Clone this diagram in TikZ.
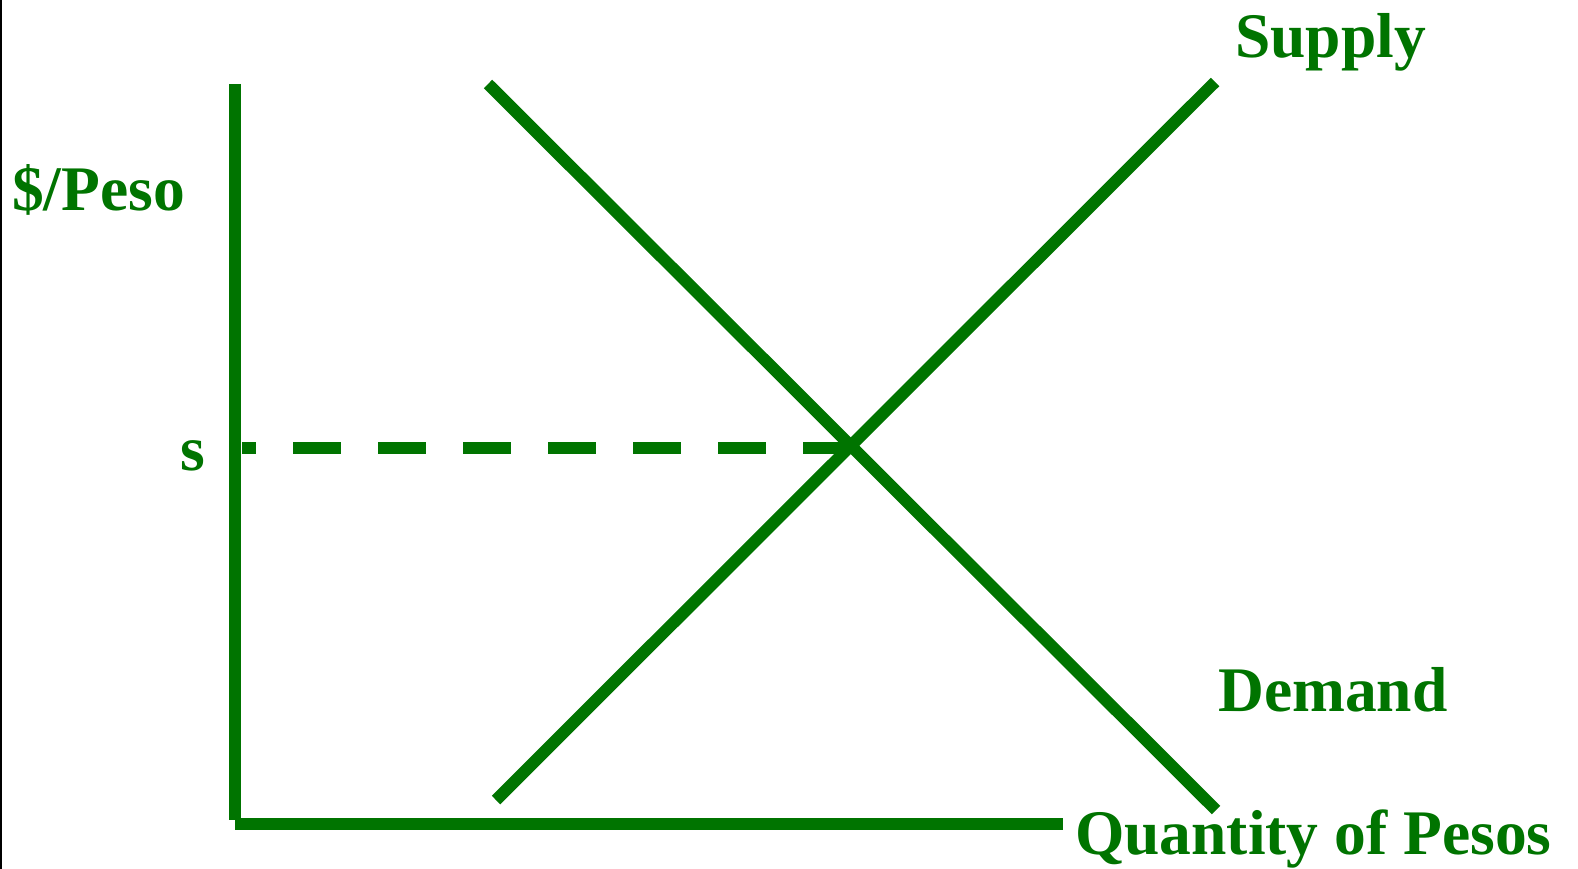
\documentclass[tikz,border=0pt]{standalone}
\usepackage{fontspec}
\setmainfont{Liberation Serif}
\definecolor{eco}{RGB}{0,116,0}
\begin{document}
\begin{tikzpicture}[x=1pt,y=-1pt,
  curve/.style={draw=eco,line width=12pt,line cap=butt},
  axisline/.style={draw=eco,line width=12pt},
  lbl/.style={text=eco,font=\fontsize{63.5}{63.5}\selectfont\bfseries,anchor=base west,inner sep=0pt}]
\useasboundingbox (0,0) rectangle (1578,869);
\fill[white] (0,0) rectangle (1578,869);
\draw[black,line width=2.5pt] (1.2,0) -- (1.2,869);
% axes
\coordinate (ytop) at (235,84);
\coordinate (ybot) at (235,820);
\coordinate (xl) at (235,824);
\coordinate (xr) at (1063,824);
\draw[axisline] (ytop) -- (ybot);
\draw[axisline] (xl) -- (xr);
% curves
\coordinate (d1) at (488,84);
\coordinate (d2) at (1216,810);
\coordinate (s1) at (496,800);
\coordinate (s2) at (1215,82);
\coordinate (eq) at (850,448);
\draw[curve] (d1) -- (d2);
\draw[curve] (s1) -- (s2);
% dashed
\coordinate (ds) at (242,448);
\draw[draw=eco,line width=12pt,dash pattern=on 48pt off 37pt,dash phase=34pt] (ds) -- (eq);
% labels
\node[lbl] (price) at (12,211) {\$/Peso};
\node[lbl] (s) at (180,470) {s};
\node[lbl] (supply) at (1235,58) {Supply};
\node[lbl] (demand) at (1218,711) {Demand};
\node[lbl] (qty) at (1075,854) {Quantity of Pesos};
\end{tikzpicture}
\end{document}
